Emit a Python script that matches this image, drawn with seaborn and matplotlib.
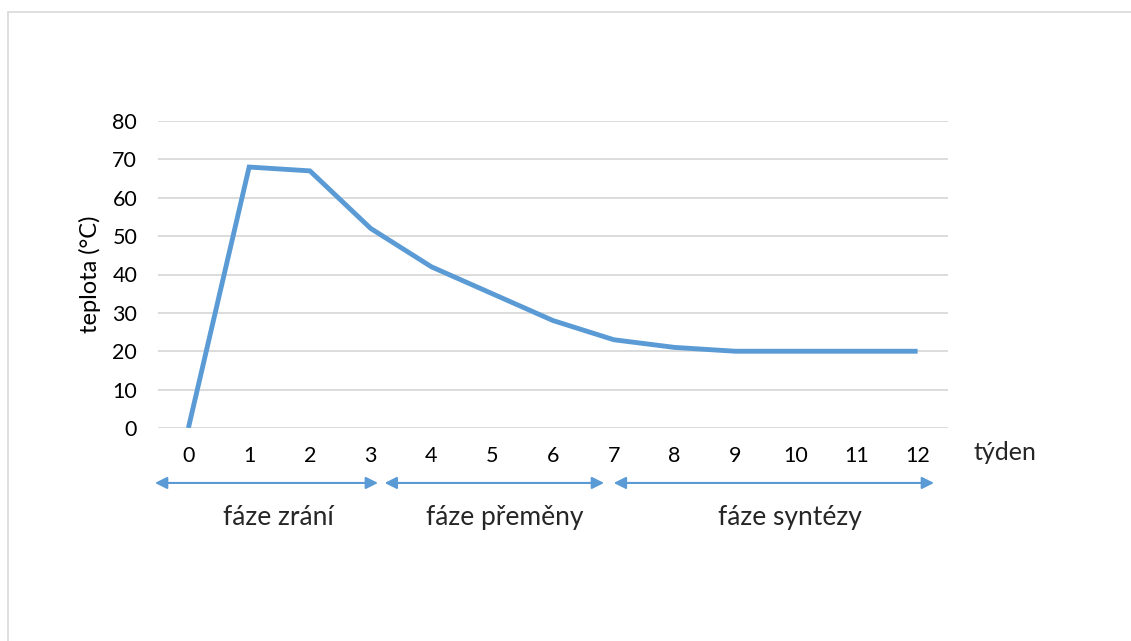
import matplotlib
matplotlib.use("Agg")
import matplotlib.pyplot as plt
import matplotlib.transforms as mtransforms
from matplotlib.lines import Line2D
import seaborn as sns
import pandas as pd

weeks = [0, 1, 2, 3, 4, 5, 6, 7, 8, 9, 10, 11, 12]
temps = [0, 68, 67, 52, 42, 35, 28, 23, 21, 20, 20, 20, 20]
y_ticks = [0, 10, 20, 30, 40, 50, 60, 70, 80]
phase_labels = ["fáze zrání", "fáze přeměny", "fáze syntézy"]
phase_starts = [-0.55, 3.23, 7.0]
phase_ends = [3.12, 6.84, 12.27]
phase_label_x = [1.48, 5.2, 9.9]

sns.set_theme(style="white")
plt.rcParams['font.family'] = ['Lato', 'DejaVu Sans']

fig = plt.figure(figsize=(11.31, 6.41), dpi=100)
W, H = 1131, 641
ax = fig.add_axes([158 / W, (641 - 428) / H, (948 - 158) / W, (428 - 121) / H])

df = pd.DataFrame({"week": weeks, "temp": temps})
sns.lineplot(data=df, x="week", y="temp", ax=ax, color="#5B9BD5", linewidth=3.5,
             solid_joinstyle="miter", solid_capstyle="butt")

ax.set_xlim(-0.5, 12.5)
ax.set_ylim(0, 80)
ax.set_yticks(y_ticks)
ax.set_xticks(weeks)
ax.set_xticklabels([str(w) for w in weeks])
for s in ax.spines.values():
    s.set_visible(False)
ax.yaxis.grid(True, color="#D9D9D9", linewidth=1.3)
ax.xaxis.grid(False)
ax.set_axisbelow(True)
ax.tick_params(axis="both", length=0, labelsize=15.5, colors="black")
ax.tick_params(axis="y", pad=15)
ax.tick_params(axis="x", pad=13)
ax.set_xlabel("")
ax.set_ylabel("teplota (°C)", fontsize=17, color="black", labelpad=8)

fig.text(1005 / W, (641 - 453) / H, "týden", fontsize=18, ha="center", va="center")

trans = mtransforms.blended_transform_factory(ax.transData, ax.transAxes)
for x0, x1, lab, lx in zip(phase_starts, phase_ends, phase_labels, phase_label_x):
    ax.annotate("", xy=(x1, -0.179), xytext=(x0, -0.179), xycoords=trans, textcoords=trans,
                arrowprops=dict(arrowstyle="<|-|>", color="#5B9BD5", lw=1.5,
                                mutation_scale=18, shrinkA=0, shrinkB=0),
                annotation_clip=False)
    ax.text(lx, -0.293, lab, transform=trans, fontsize=19, ha="center", va="center",
            clip_on=False)

fig.add_artist(Line2D([8 / W, 8 / W], [0, 1 - 12 / H], transform=fig.transFigure,
                      color="#D9D9D9", linewidth=1.2))
fig.add_artist(Line2D([8 / W, 1], [1 - 12 / H, 1 - 12 / H], transform=fig.transFigure,
                      color="#D9D9D9", linewidth=1.2))

fig.savefig("out.png", dpi=100, facecolor="white")
